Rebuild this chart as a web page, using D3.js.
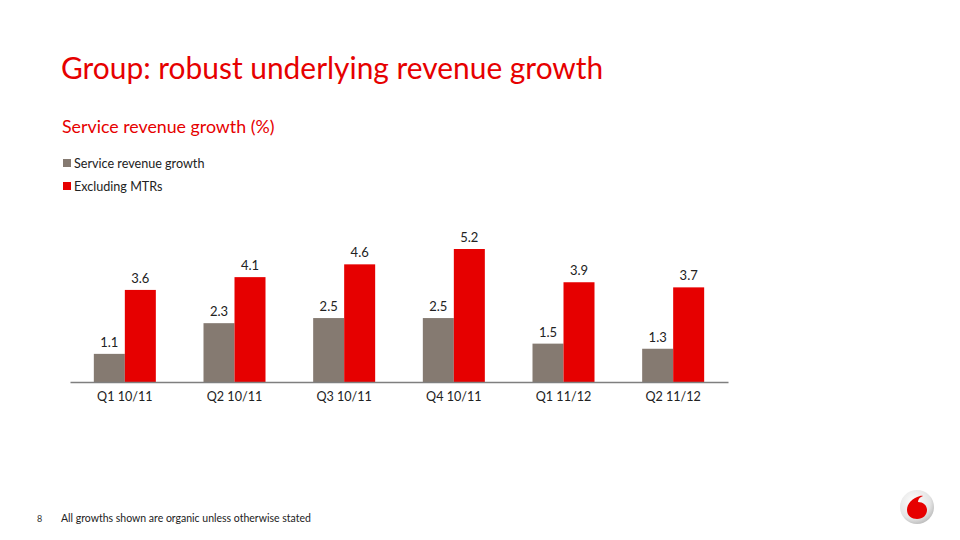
<!DOCTYPE html>
<html><head><meta charset="utf-8">
<script src="https://cdn.jsdelivr.net/npm/d3@7"></script>
<style>body{margin:0;background:#fff}svg{display:block}text{font-family:Lato,"Open Sans",sans-serif}</style>
</head><body><svg id="c" width="960" height="540"></svg>
<script>
const categories = ["Q1 10/11","Q2 10/11","Q3 10/11","Q4 10/11","Q1 11/12","Q2 11/12"];
const seriesNames = ["Service revenue growth","Excluding MTRs"];
const serviceRevenue = [1.1,2.3,2.5,2.5,1.5,1.3];
const excludingMTRs = [3.6,4.1,4.6,5.2,3.9,3.7];
const colors = ["#857A71","#E60000"];

const svg = d3.select("#c");
const red = "#E60000";

svg.append("text").attr("x",61).attr("y",79).attr("fill",red).attr("font-size",29.9).text("Group: robust underlying revenue growth");
svg.append("text").attr("x",62).attr("y",133).attr("fill",red).attr("font-size",17.8).text("Service revenue growth (%)");

const legend = svg.append("g");
seriesNames.forEach((n,i)=>{
  legend.append("rect").attr("x",63).attr("y",159+i*23).attr("width",8).attr("height",8).attr("fill",colors[i]);
  legend.append("text").attr("x",74).attr("y",168+i*23).attr("font-size",12.6).attr("fill","#222").text(n);
});

const x0 = d3.scaleBand().domain(categories).range([70,728]).paddingInner(0).paddingOuter(0);
const x1 = d3.scaleBand().domain(seriesNames).range([0,62]);
const y = d3.scaleLinear().domain([0,5.2]).range([382,249]);

const data = categories.map((c,i)=>({cat:c, vals:[serviceRevenue[i],excludingMTRs[i]]}));
const g = svg.append("g");
const grp = g.selectAll("g.grp").data(data).join("g")
  .attr("transform",d=>`translate(${x0(d.cat)+x0.bandwidth()/2-31},0)`);
grp.selectAll("rect").data(d=>d.vals.map((v,j)=>({v,s:seriesNames[j],j}))).join("rect")
  .attr("x",d=>x1(d.s)).attr("width",x1.bandwidth()).attr("y",d=>y(d.v)).attr("height",d=>y(0)-y(d.v))
  .attr("fill",d=>colors[d.j]);
grp.selectAll("text").data(d=>d.vals.map((v,j)=>({v,s:seriesNames[j]}))).join("text")
  .attr("x",d=>x1(d.s)+x1.bandwidth()/2).attr("y",d=>y(d.v)-7).attr("text-anchor","middle")
  .attr("font-size",13).attr("fill","#222").text(d=>d3.format(".1f")(d.v));

const ax = svg.append("g").attr("transform","translate(0,382)").call(d3.axisBottom(x0).tickSize(0).tickPadding(10));
ax.select(".domain").attr("stroke","#7f7f7f").attr("stroke-width",1.3);
ax.selectAll("text").attr("font-size",12.6).attr("fill","#222").attr("font-family","Lato,sans-serif");

svg.append("text").attr("x",37).attr("y",522).attr("font-size",9).attr("fill","#333").text("8");
svg.append("text").attr("x",61).attr("y",522).attr("font-size",10.5).attr("fill","#222").text("All growths shown are organic unless otherwise stated");

// logo
const defs = svg.append("defs");
const rg = defs.append("radialGradient").attr("id","lg").attr("cx","40%").attr("cy","35%").attr("r","70%");
rg.append("stop").attr("offset","0%").attr("stop-color","#ffffff");
rg.append("stop").attr("offset","70%").attr("stop-color","#e4e4e4");
rg.append("stop").attr("offset","100%").attr("stop-color","#b8b8b8");
const logo = svg.append("g").attr("transform","translate(917,507)");
logo.append("circle").attr("r",17).attr("fill","url(#lg)");
logo.append("path").attr("fill",red)
  .attr("d","M3,-11 C-5,-9 -10,-3 -10,3 C-10,9 -5,12 0,12 C6,12 10,8 10,3 C10,-2 6,-5 1,-5 C1,-8 3,-10 6,-11 C5,-11.5 4,-11.3 3,-11 Z");
</script></body></html>
